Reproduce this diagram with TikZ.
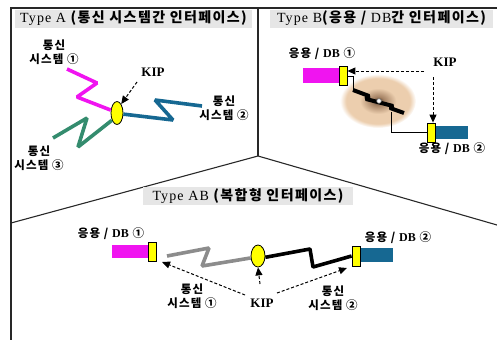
\documentclass[tikz,border=0pt]{standalone}
\usepackage{fontspec}
\setmainfont{Liberation Serif}
\newfontfamily\krf{Noto Sans CJK KR}[LetterSpace=10]
\newfontfamily\latw{Liberation Serif}[LetterSpace=8]
\usetikzlibrary{arrows.meta,shapes.geometric}

\definecolor{appmag}{RGB}{240,20,240}
\definecolor{appblue}{RGB}{22,104,146}
\definecolor{linkgreen}{RGB}{52,140,110}
\definecolor{kipyellow}{RGB}{255,255,0}
\definecolor{linkgray}{RGB}{140,140,140}
\definecolor{titlegray}{RGB}{230,230,230}
\definecolor{framecol}{RGB}{40,40,40}
\definecolor{blobtan}{RGB}{236,206,174}
\definecolor{blobdark}{RGB}{60,48,40}
\definecolor{blobmid}{RGB}{165,130,100}

\pgfdeclareradialshading{netblob}{\pgfpointorigin}{%
  color(0bp)=(blobdark); color(4bp)=(blobmid); color(12bp)=(blobtan);
  color(21bp)=(blobtan); color(25bp)=(white); color(50bp)=(white)}

\tikzset{
  frameline/.style={draw=framecol, line width=1.1pt},
  titlebox/.style={fill=titlegray, inner sep=0pt, minimum height=18pt,
    font=\fontsize{14}{16}\selectfont},
  lbl/.style={align=center, inner sep=0pt,
    font=\krf\bfseries\fontsize{11.5}{13.5}\selectfont},
  kiplbl/.style={inner sep=0pt, font=\bfseries\fontsize{13}{14}\selectfont},
  kipnode/.style={ellipse, draw=black, fill=kipyellow, line width=0.8pt,
    minimum width=12pt, minimum height=23pt, inner sep=0pt},
  portbox/.style={rectangle, draw=black, fill=kipyellow, line width=0.8pt,
    minimum width=8pt, minimum height=19pt, inner sep=0pt},
  appbox/.style={rectangle, inner sep=0pt, minimum height=14pt},
  zig/.style={line width=3.6pt, line join=bevel},
  thinline/.style={draw=black, line width=0.8pt},
  dasharrow/.style={draw=black, line width=1pt, dash pattern=on 3pt off 2pt,
    -{Triangle[length=8pt,width=7pt]}},
}

\newcommand{\kr}[1]{{\krf\bfseries #1}}
\newcommand{\db}{{\rmfamily\bfseries\fontsize{12}{13}\selectfont DB}}

\begin{document}
\begin{tikzpicture}[x=1pt,y=-1pt]
\useasboundingbox (0,0) rectangle (497,340);

% frame and dividers
\draw[frameline] (497,8) -- (11,8) -- (11,340);
\coordinate (mid) at (258,156);
\draw[frameline] (258,8) -- (mid);
\draw[frameline] (11,223) -- (mid) -- (497,225);

% titles
\node[titlebox, minimum width=237pt] (tA) at (133.5,18.5) {\latw Type A \kr{(통신 시스템간 인터페이스)}};
\node[titlebox, minimum width=223pt] (tB) at (381.5,18.5) {\latw Type B\kr{(응용 / }DB\kr{간 인터페이스)}};
\node[titlebox, minimum width=210pt] (tAB) at (248,196) {\latw Type AB \kr{(복합형 인터페이스)}};

% ---------- Type A ----------
\node[kipnode] (kipA) at (117,113) {};
\node[kiplbl] (kipAl) at (153,72) {KIP};
\coordinate (kipAt) at (137,82);
\draw[dasharrow] (kipAt) -- (kipA.65);

\coordinate (a1) at (67,69);
\coordinate (a2) at (202,106);
\coordinate (a3) at (53,138);
\draw[zig, appmag] (a1) -- (97,83) -- (77,97) -- (kipA.155);
\draw[zig, appblue] (kipA.-10) -- (173,120) -- (155,100) -- (a2);
\draw[zig, linkgreen] (kipA.235) -- (78,147) -- (87,118) -- (a3);

\node[lbl] (sA1) at (54,52) {통신\\시스템 ①};
\node[lbl] (sA2) at (224,108) {통신\\시스템 ②};
\node[lbl] (sA3) at (39,158) {통신\\시스템 ③};

% ---------- Type B ----------
\shade[shading=netblob] (378,101) ellipse [x radius=38, y radius=27];

\node[appbox, fill=appmag, minimum width=36pt, minimum height=15pt] (mB1) at (321,75.5) {};
\node[portbox] (pB1) at (343,76) {};
\node[appbox, fill=appblue, minimum width=33pt, minimum height=13pt] (mB2) at (451.5,132.5) {};
\node[portbox] (pB2) at (431,132.5) {};

\node[lbl] (lB1) at (322,54) {응용 / \db{} ①};
\node[lbl] (lB2) at (452,149) {응용 / \db{} ②};

\coordinate (zs) at (353,90);
\coordinate (ze) at (404,113);
\coordinate (zd) at (391,112);
\draw[thinline] (pB1.east) -| (zs);
\draw[thinline] (zd) |- (pB2.west);
\draw[zig, black, line width=4pt] (zs) -- (369,96) -- (366,99) -- (393,106) -- (390,108) -- (ze);
\node[circle, draw=gray, fill=white, line width=0.6pt, minimum size=4.5pt, inner sep=0pt] (hubB) at (379,101) {};

\node[kiplbl] (kipBl) at (445,62) {KIP};
\coordinate (kb1) at (424,71);
\coordinate (kb2) at (433,77);
\draw[dasharrow] (kb1) -- (pB1.east |- kb1);
\draw[dasharrow] (kb2) -- (pB2.north -| kb2);

% ---------- Type AB ----------
\node[appbox, fill=appmag, minimum width=36pt, minimum height=13pt] (mAB1) at (130,251.5) {};
\node[portbox] (pAB1) at (152,251.5) {};
\node[appbox, fill=appblue, minimum width=33pt, minimum height=14pt] (mAB2) at (376.5,255) {};
\node[portbox, minimum height=20pt] (pAB2) at (356,256) {};
\node[kipnode, minimum width=14pt, minimum height=22pt] (kipAB) at (258,256) {};

\node[lbl] (lAB1) at (111,234) {응용 / \db{} ①};
\node[lbl] (lAB2) at (398,238) {응용 / \db{} ②};

\coordinate (g0) at (167,256);
\draw[zig, linkgray] (g0) -- (209,248) -- (202,266) -- (kipAB.195);
\draw[zig, black] (kipAB.-10) -- (310,249) -- (313,267) -- (pAB2.west);

\node[kiplbl] (kipABl) at (262,303) {KIP};
\coordinate (kc0) at (260,284);
\coordinate (kc1) at (245,295);
\coordinate (kc2) at (277,293);
\draw[dasharrow] (kc0) -- (kipAB.south);
\draw[dasharrow] (kc1) -- (162,262);
\draw[dasharrow] (kc2) -- (347,268);

\node[lbl] (sAB1) at (192,296) {통신\\시스템 ①};
\node[lbl] (sAB2) at (333,298) {통신\\시스템 ②};
\end{tikzpicture}
\end{document}
